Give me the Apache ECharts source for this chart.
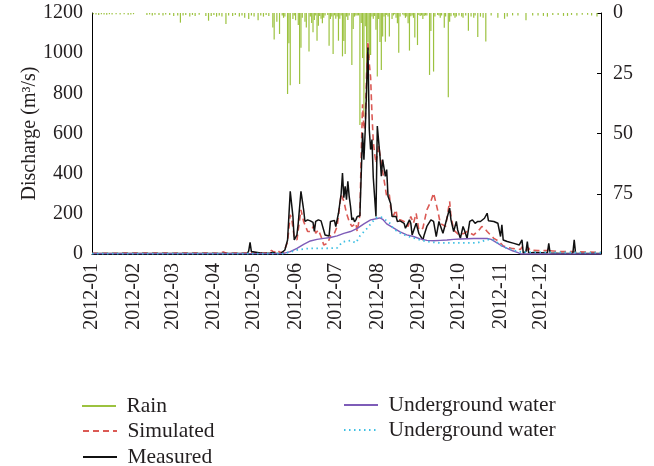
<!DOCTYPE html>
<html><head><meta charset="utf-8">
<script src="https://cdn.jsdelivr.net/npm/echarts@6/dist/echarts.min.js"></script>
<style>html,body{margin:0;padding:0;background:#fff}#c{width:654px;height:466px}</style>
</head><body><div id="c"></div><script>
// x values are day offsets from 2012-01-01
const monthLabels = ['2012-01','2012-02','2012-03','2012-04','2012-05','2012-06','2012-07','2012-08','2012-09','2012-10','2012-11','2012-12'];
const monthStartDays = [0,31,60,91,121,152,182,213,244,274,305,335];
const dischargeTicks = [0,1200,200];
const rainTicks = [0,100,25];

const rain = [[1,0.5],[3,0.6],[5,0.8],[7,0.5],[9,0.6],[11,0.7],[13,0.5],[15,0.6],[18,0.5],[21,0.6],[24,0.5],[27,0.7],[29,0.6],[31,0.5],
[41,0.8],[43,0.6],[45,1.0],[47,0.7],[50,0.8],[53,1.0],[55,0.6],[58,0.8],[61,1.2],[64,1.0],[66,4.0],[68,1.0],[70,0.8],[73,1.5],[75,0.8],[77,1.2],[80,0.7],
[85,1.2],[87,3.2],[89,1.2],[91,0.8],[93,1.5],[95,1.0],[97,1.5],[100,4.6],[102,1.0],[105,1.2],[107,0.8],[110,1.5],[112,1.0],[114,2.0],[117,2.5],[119,1.0],
[121,1.5],[124,3.0],[126,1.0],[128,1.5],[130,0.8],[132,1.2],[135,6.0],[136,11],[138,3.6],[140,8.7],[142,1.0],[143,2.0],[144,1.5],[146,33.6],[147,12.5],[148,30],
[150,2.5],[151,1.0],[152,3.0],[154,5.0],[155,29.5],[156,14.4],[157,2.0],[159,3.6],[160,6.0],[162,16],[163,1.5],[164,4.2],[165,8.0],[166,2.9],[167,1.0],[168,11.5],
[169,5.3],[170,1.2],[171,2.4],[172,4.3],[173,2.0],[174,1.0],[176,0.8],[177,13.6],[178,2.5],[179,1.5],[180,17],[181,1.0],[182,2.4],[183,1.5],[184,11.5],[185,2.4],
[186,1.0],[187,18],[188,11.6],[189,17],[190,1.5],[191,2.9],[192,1.0],[194,21.6],[195,6.6],[196,1.5],[197,1.0],[198,1.0],[199,1.0],[200,46.5],[201,4.2],[202,18.7],
[203,43],[204,5.5],[205,36.8],[206,12],[207,18.7],[208,17.4],[209,1.5],[210,2.4],[211,1.2],[212,7.0],[213,26.4],[214,2.5],[215,12],[216,23.6],[217,9.8],[218,1.5],
[219,11.9],[220,0.8],[221,1.5],[222,9.8],[224,2.5],[225,1.0],[226,0.5],[227,2.0],[228,4.3],[229,16.5],[230,1.5],[232,0.6],[233,1.0],[234,2.0],[235,1.5],[236,4.3],
[237,15.6],[238,1.3],[239,1.0],[240,2.0],[241,10.2],[243,13.3],[244,0.8],[245,1.2],[246,1.0],[247,2.5],[248,1.2],[249,1.0],[250,1.0],[252,25.7],[253,7.5],[255,24.3],
[256,1.5],[258,0.8],[259,1.0],[260,2.0],[261,1.0],[263,6.1],[264,1.5],[266,35],[267,3.6],[268,1.4],[270,1.0],[271,2.0],[272,1.5],[274,1.0],[276,1.5],[277,2.0],
[279,1.0],[281,7.4],[283,1.5],[285,2.0],[286,1.0],[288,10],[290,1.5],[292,2.0],[294,11.8],[298,1.0],[303,2.0],[308,2.4],[310,1.5],[314,1.0],[318,1.0],[324,3.0],
[329,1.0],[333,1.0],[337,1.2],[340,1.5],[344,0.8],[348,0.8],[352,1.2],[355,1.2],[358,0.8],[362,1.0],[366,0.7],[370,0.7],[373,1.0],[377,1.5]];

const simulated = [[0,4],[20,4],[40,5],[60,4],[80,5],[95,4],[98,10],[100,5],[110,4],[116,5],[118,12],[120,6],[130,5],[134,18],[136,8],[138,20],[140,10],[143,8],
[146,60],[148,195],[149,180],[151,83],[153,70],[156,220],[158,162],[159,145],[161,112],[163,112],[166,145],[167,103],[169,120],[171,87],[173,45],[176,53],[178,90],
[181,103],[183,137],[185,245],[186,295],[188,263],[190,203],[192,162],[194,137],[197,153],[198,112],[200,195],[201,500],[202,745],[203,620],[204,650],[205,900],
[206,1058],[207,950],[208,880],[209,700],[210,560],[211,500],[212,453],[214,537],[216,453],[218,370],[220,287],[222,295],[223,230],[225,190],[227,220],[228,170],
[230,170],[233,162],[234,160],[236,137],[238,187],[240,153],[242,203],[244,120],[247,128],[250,220],[253,262],[255,303],[258,220],[260,153],[264,137],[267,262],
[268,187],[270,120],[274,95],[278,103],[280,112],[285,95],[289,120],[291,137],[293,128],[295,112],[300,78],[304,62],[307,40],[313,28],[320,23],[321,35],[322,22],
[325,20],[326,30],[327,19],[333,17],[340,17],[341,30],[342,16],[350,12],[360,12],[361,20],[362,11],[370,10],[380,8]];

const measured = [[0,3],[10,2],[20,3],[30,2],[40,3],[50,2],[60,3],[70,2],[80,3],[90,2],[100,3],[110,2],[116,3],[117,15],[118,58],[119,12],[120,4],[128,3],[133,5],
[135,8],[137,4],[141,3],[144,20],[146,70],[148,312],[150,187],[151,70],[153,95],[154,155],[156,312],[158,220],[159,162],[161,170],[162,162],[163,165],[165,157],
[166,112],[167,162],[169,170],[171,165],[172,157],[174,95],[175,87],[177,90],[178,162],[179,157],[181,167],[182,137],[184,203],[186,300],[187,403],[188,280],
[189,337],[190,270],[191,362],[192,287],[193,237],[194,170],[195,180],[196,160],[197,170],[198,187],[200,190],[202,603],[203,470],[204,620],[206,1028],[207,620],
[208,520],[209,570],[210,380],[212,187],[213,637],[215,487],[216,387],[217,470],[219,387],[220,420],[221,287],[223,250],[224,187],[225,178],[227,187],[228,162],
[230,165],[233,153],[234,128],[235,120],[237,170],[238,153],[239,95],[240,95],[242,153],[244,103],[247,70],[248,95],[250,137],[253,170],[255,162],[257,87],
[259,162],[262,103],[264,153],[267,228],[268,170],[270,112],[272,162],[273,120],[275,78],[277,137],[278,120],[279,128],[280,78],[282,162],[284,170],[286,153],
[288,162],[290,162],[293,178],[295,203],[296,165],[300,162],[303,153],[305,87],[306,145],[307,70],[310,62],[315,53],[319,45],[320,50],[321,70],[322,3],[324,13],
[325,62],[326,5],[330,7],[340,5],[341,53],[342,5],[350,3],[359,4],[360,70],[361,4],[370,3],[380,3]];

const groundSolid = [[0,2],[140,2],[143,3],[148,12],[153,28],[158,48],[163,65],[168,73],[173,78],[178,82],[183,90],[188,103],[193,112],[198,128],[203,150],[208,170],
[213,177],[215,180],[217,173],[220,150],[225,130],[230,110],[235,95],[240,87],[245,75],[250,68],[255,66],[260,68],[265,70],[270,73],[275,75],[280,76],[285,77],
[290,77],[295,77],[298,73],[303,53],[306,40],[310,28],[314,16],[318,7],[320,0],[380,0]];

const groundDotted = [[0,2],[143,2],[148,10],[153,20],[158,25],[163,28],[173,28],[183,30],[185,45],[187,60],[193,67],[197,55],[198,50],[200,90],[205,125],[210,165],
[212,180],[216,183],[219,170],[223,150],[225,125],[230,105],[235,90],[240,80],[245,70],[250,62],[255,58],[260,55],[270,55],[280,55],[288,56],[295,72],[300,70],
[303,55],[306,40],[310,28],[315,18],[320,10],[330,8],[380,7]];

const FONT = '"Liberation Serif", "Times New Roman", serif';
const TXT = '#231f20';
const chart = echarts.init(document.getElementById('c'), null, {renderer:'canvas'});
const legendText = {fontFamily: FONT, fontSize: 21.5, color: TXT, lineHeight: 20};
const legendFmt = n => ' ' + n.trim();
const hideSym = {opacity: 0};
function legendAt(name, left, top, isBar) {
  return Object.assign({
    data: [name], orient: 'vertical', left: left, top: top, padding: 0,
    itemWidth: 34, textStyle: legendText, formatter: legendFmt
  }, isBar ? {icon: 'rect', itemHeight: 2} : {itemHeight: 14, itemStyle: hideSym});
}
chart.setOption({
  animation: false,
  backgroundColor: '#fff',
  grid: {left: 92, right: 53, top: 13, bottom: 212, containLabel: false},
  xAxis: {
    type: 'value', min: 0, max: 380,
    axisLine: {show: true, lineStyle: {color: '#000', width: 1}},
    axisTick: {show: false, customValues: monthStartDays},
    splitLine: {show: false},
    axisLabel: {
      customValues: monthStartDays, rotate: 90, margin: 9,
      fontFamily: FONT, fontSize: 20, color: TXT,
      formatter: v => monthLabels[monthStartDays.indexOf(v)] || ''
    }
  },
  yAxis: [{
    type: 'value', min: dischargeTicks[0], max: dischargeTicks[1], interval: dischargeTicks[2],
    name: 'Discharge (m³/s)', nameLocation: 'middle', nameGap: 52, nameMoveOverlap: false,
    nameTextStyle: {fontFamily: FONT, fontSize: 20, color: TXT},
    axisLine: {show: true, lineStyle: {color: '#000', width: 1}},
    axisTick: {show: false}, splitLine: {show: false},
    axisLabel: {fontFamily: FONT, fontSize: 20, color: TXT, margin: 9, formatter: v => String(v)}
  }, {
    type: 'value', min: rainTicks[0], max: rainTicks[1], interval: rainTicks[2], inverse: true, position: 'right',
    axisLine: {show: true, lineStyle: {color: '#000', width: 1}},
    axisTick: {show: true, inside: true, length: 4, lineStyle: {color: '#000'}},
    splitLine: {show: false},
    axisLabel: {fontFamily: FONT, fontSize: 20, color: TXT, margin: 12, formatter: v => String(v)}
  }],
  legend: [
    legendAt('Rain', 82, 395, true),
    legendAt('Simulated', 82, 420, false),
    legendAt('Measured', 82, 446, false),
    legendAt('Underground water', 343, 394, false),
    legendAt('Underground water ', 343, 419, false)
  ],
  series: [
    {name: 'Rain', type: 'bar', xAxisIndex: 0, yAxisIndex: 1, data: rain, barWidth: 1.2, itemStyle: {color: '#9cc23f'}, z: 1},
    {name: 'Simulated', type: 'line', yAxisIndex: 0, data: simulated, symbol: 'none', lineStyle: {color: '#db5a55', width: 1.6, type: [6, 4]}, itemStyle: {color: '#db5a55'}, z: 2},
    {name: 'Measured', type: 'line', yAxisIndex: 0, data: measured, symbol: 'none', lineStyle: {color: '#111', width: 1.5}, itemStyle: {color: '#111'}, z: 3},
    {name: 'Underground water', type: 'line', yAxisIndex: 0, data: groundSolid, symbol: 'none', lineStyle: {color: '#7e5cb8', width: 1.4}, itemStyle: {color: '#7e5cb8'}, z: 4},
    {name: 'Underground water ', type: 'line', yAxisIndex: 0, data: groundDotted, symbol: 'none', lineStyle: {color: '#3dbfe3', width: 1.8, type: [1.5, 3.5]}, itemStyle: {color: '#3dbfe3'}, z: 5}
  ]
});
</script></body></html>
